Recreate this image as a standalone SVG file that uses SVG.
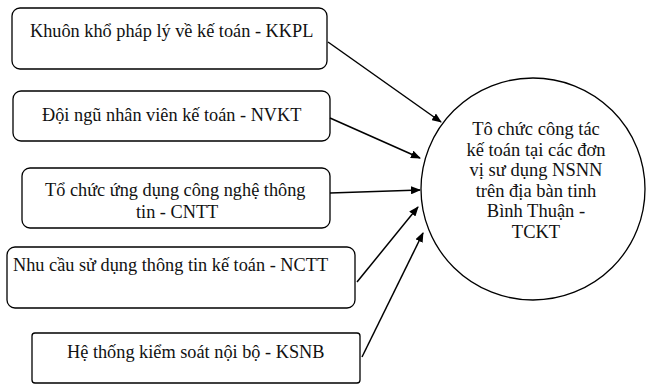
<svg xmlns="http://www.w3.org/2000/svg" width="647" height="384" viewBox="0 0 647 384">
<style>
.box{fill:#fff;stroke:#000;stroke-width:1.3}
.t{font-family:"Liberation Serif","Times New Roman",serif;font-size:18.3px;fill:#111}
.c{font-family:"Liberation Serif","Times New Roman",serif;font-size:18.5px;fill:#111;text-anchor:middle}
.ln{stroke:#000;stroke-width:1.5;fill:none;marker-end:url(#ah)}
</style>
<defs>
<marker id="ah" markerWidth="10" markerHeight="8" refX="9" refY="4" orient="auto" markerUnits="userSpaceOnUse">
<path d="M0,0 L10,4 L0,8 Z" fill="#000"/>
</marker>
</defs>
<rect width="647" height="384" fill="#fff"/>
<g id="kkpl">
<rect class="box" x="12" y="8" width="315" height="61" rx="8"/>
<text class="t" x="30" y="37">Khuôn khổ pháp lý về kế toán - KKPL</text>
</g>
<g id="nvkt">
<rect class="box" x="13" y="91" width="317" height="50" rx="8"/>
<text class="t" x="42" y="121">Đội ngũ nhân viên kế toán - NVKT</text>
</g>
<g id="cntt">
<rect class="box" x="22" y="168" width="308" height="60" rx="8"/>
<text class="t" x="45" y="196">Tổ chức ứng dụng công nghệ thông</text>
<text class="t" x="136" y="218">tin - CNTT</text>
</g>
<g id="nctt">
<rect class="box" x="7" y="247" width="348" height="61" rx="8"/>
<text class="t" x="13" y="271">Nhu cầu sử dụng thông tin kế toán - NCTT</text>
</g>
<g id="ksnb">
<rect class="box" x="32" y="333" width="328" height="50" rx="3"/>
<text class="t" x="67" y="358">Hệ thống kiểm soát nội bộ - KSNB</text>
</g>
<g id="tckt">
<ellipse class="box" cx="533" cy="189" rx="112" ry="111"/>
<text class="c" x="536" y="135">Tô chức công tác</text>
<text class="c" x="536" y="156">kế toán tại các đơn</text>
<text class="c" x="536" y="176">vị sư dụng NSNN</text>
<text class="c" x="536" y="197">trên địa bàn tinh</text>
<text class="c" x="536" y="217">Bình Thuận -</text>
<text class="c" x="536" y="238">TCKT</text>
</g>
<g id="connectors">
<line class="ln" x1="328" y1="42" x2="441" y2="122"/>
<line class="ln" x1="330" y1="118" x2="420" y2="158"/>
<line class="ln" x1="330" y1="193" x2="420" y2="190"/>
<line class="ln" x1="357" y1="282" x2="418" y2="207"/>
<line class="ln" x1="362" y1="357" x2="423" y2="233"/>
</g>
</svg>
